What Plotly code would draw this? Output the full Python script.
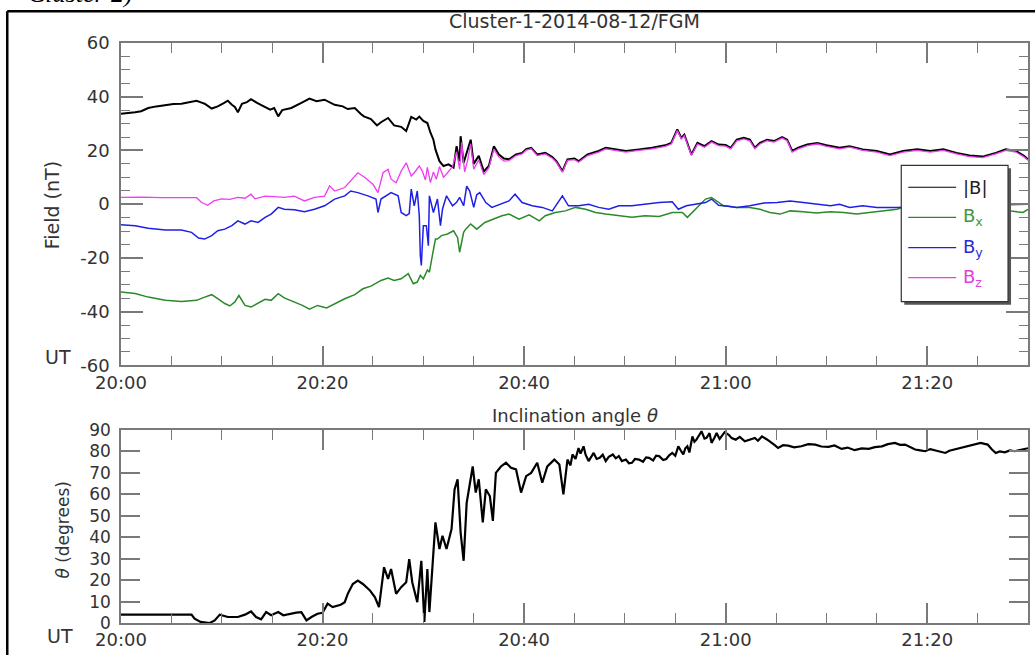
import pandas as pd
import plotly.graph_objects as go

# ---------------- data (minutes after 20:00 UT) -------------
t_B = [0, 0.7, 1.4, 2.0, 2.7, 3.5, 4.4, 5.2, 6.0, 6.8, 7.5, 8.0, 8.3, 9.0, 9.6, 10.2, 10.6, 11.0, 11.3, 11.6,
       12.0, 12.5, 12.9, 13.5, 14.2, 14.8, 15.2, 15.6, 16.0, 16.9, 17.9, 18.7, 19.4, 20.2, 21.2, 22.0, 22.5,
       23.2, 23.8, 24.1, 24.8, 25.4, 25.8, 26.5, 27.1, 27.8, 28.3, 28.8, 29.3, 29.6, 30.0, 30.4, 30.7, 31.0,
       31.2, 31.4, 31.6, 32.0, 32.5, 33.0, 33.3, 33.6, 33.7, 34.0, 34.3, 34.7, 35.0, 35.5, 36.0, 36.5, 37.0,
       37.5, 38.0, 38.5, 39.2, 39.8, 40.2, 40.7, 41.3, 42.1, 42.8, 43.2, 43.8, 44.3, 45.0, 45.4, 46.3, 47.4,
       48.1, 49.1, 50.1, 51.4, 52.7, 54.0, 54.6, 55.2, 55.6, 55.9, 56.6, 57.2, 57.9, 58.6, 59.3, 60.0, 60.5,
       61.1, 61.8, 62.4, 62.9, 63.4, 64.1, 64.8, 65.6, 66.1, 66.6, 67.2, 68.1, 69.1, 70.0, 71.3, 72.3, 73.6,
       75.0, 76.3, 77.6, 79.0, 80.3, 81.6, 82.9, 84.2, 85.5, 86.8, 87.8, 88.8, 89.6, 90.0]
B_mag = [33.7, 33.9, 34.2, 34.6, 35.8, 36.4, 37.0, 37.3, 37.4, 37.9, 38.5, 37.8, 37.4, 35.6, 36.4, 37.6, 38.5,
         37.0, 36.2, 34.2, 37.4, 38.0, 39.1, 37.7, 36.4, 35.2, 35.8, 32.7, 35.0, 35.8, 37.7, 39.3, 38.3, 38.9,
         37.0, 36.4, 35.4, 35.8, 33.6, 32.7, 31.7, 29.3, 30.5, 32.1, 29.3, 28.8, 27.2, 32.5, 31.5, 32.6, 31.0,
         30.2, 26.7, 24.0, 20.4, 18.0, 16.0, 14.2, 14.8, 13.6, 21.6, 16.0, 25.3, 15.4, 19.0, 24.0, 15.0, 18.0,
         12.2, 14.2, 21.6, 18.5, 17.0, 16.7, 18.5, 19.1, 20.5, 21.0, 18.5, 19.1, 17.5, 16.0, 12.3, 16.7, 17.0,
         16.0, 18.5, 19.8, 21.0, 20.4, 19.8, 20.4, 21.0, 21.9, 22.8, 27.8, 24.7, 25.9, 18.5, 22.8, 21.6, 23.5,
         22.2, 22.0, 21.0, 24.0, 24.7, 24.0, 21.0, 22.8, 24.0, 23.5, 25.0, 24.0, 19.8, 21.0, 22.2, 22.8, 21.9,
         21.0, 21.6, 20.4, 19.8, 18.5, 19.8, 20.4, 19.8, 20.4, 19.1, 18.1, 17.7, 19.1, 20.4, 19.8, 18.0, 16.7]

t_Bz = [0, 2.0, 4.0, 6.0, 7.5, 8.0, 8.6, 9.2, 10.0, 10.8, 11.6, 12.3, 12.9, 13.3, 14.3, 15.2, 16.2, 17.2, 18.2,
        19.2, 20.2, 20.7, 21.2, 22.2, 22.8, 23.5, 24.2, 25.0, 25.5, 26.0, 26.5, 26.8, 27.3, 27.8, 28.3, 28.8,
        29.1, 29.6, 29.9, 30.2, 30.4, 30.7, 31.0, 31.3, 31.6, 32.0, 32.4, 32.9, 33.3, 33.6, 33.8, 34.1, 34.4,
        34.7, 35.0, 35.5, 36.0, 36.5, 37.0, 37.5, 38.0, 38.5, 39.2, 39.8, 40.2, 40.7, 41.3, 42.1, 42.8, 43.2,
        43.8, 44.3, 45.0, 45.4, 46.3, 47.4, 48.1, 49.1, 50.1, 51.4, 52.7, 54.0, 54.6, 55.2, 55.6, 55.9, 56.6,
        57.2, 57.9, 58.6, 59.3, 60.0, 60.5, 61.1, 61.8, 62.4, 62.9, 63.4, 64.1, 64.8, 65.6, 66.1, 66.6, 67.2,
        68.1, 69.1, 70.0, 71.3, 72.3, 73.6, 75.0, 76.3, 77.6, 79.0, 80.3, 81.6, 82.9, 84.2, 85.5, 86.8, 87.8,
        88.8, 89.6, 90.0]
Bz = [2.5, 2.6, 2.4, 2.5, 2.4, 0.6, -0.4, 1.2, 2.0, 1.8, 2.5, 2.2, 3.7, 2.0, 3.0, 2.8, 2.5, 3.0, 1.2, 2.5, 3.0,
      6.8, 4.9, 6.2, 8.6, 11.7, 9.9, 7.4, 4.3, 11.7, 13.0, 9.3, 8.0, 12.3, 15.4, 10.5, 11.7, 14.2, 12.3, 9.0,
      13.7, 8.0, 12.0, 9.3, 14.0, 10.0, 11.7, 14.0, 19.5, 13.0, 23.0, 12.0, 16.5, 22.5, 13.0, 16.5, 11.0, 13.5,
      20.5, 17.5, 16.0, 16.2, 18.1, 18.7, 20.1, 20.6, 18.1, 18.7, 17.1, 15.6, 11.9, 16.3, 16.6, 15.6, 18.1,
      19.4, 20.6, 20.0, 19.4, 20.0, 20.6, 21.5, 22.4, 27.4, 24.3, 25.5, 18.1, 22.4, 21.2, 23.1, 21.8, 21.6,
      20.6, 23.6, 24.3, 23.6, 20.6, 22.4, 23.6, 23.1, 24.6, 23.6, 19.4, 20.6, 21.8, 22.4, 21.5, 20.6, 21.2,
      20.0, 19.4, 18.1, 19.4, 20.0, 19.4, 20.0, 18.7, 17.7, 17.3, 18.7, 20.0, 19.4, 17.6, 16.3]

t_Bx = [0, 1.4, 2.7, 4.4, 6.0, 7.5, 8.3, 9.0, 9.6, 10.3, 10.8, 11.3, 11.7, 12.3, 12.9, 13.6, 14.3, 14.9, 15.6,
        16.2, 17.2, 18.0, 18.7, 19.5, 20.4, 21.2, 22.2, 23.2, 24.0, 24.8, 25.8, 26.5, 27.1, 27.8, 28.5, 29.0,
        29.4, 29.7, 30.0, 30.4, 30.6, 30.9, 31.2, 31.4, 31.8, 32.4, 33.0, 33.4, 33.6, 34.0, 34.2, 34.7, 35.3,
        36.1, 37.0, 37.8, 38.5, 39.5, 40.5, 41.5, 42.1, 43.1, 44.1, 45.1, 46.1, 47.1, 48.1, 49.4, 50.7, 52.0,
        53.4, 54.7, 55.7, 56.2, 57.0, 58.0, 58.6, 59.3, 59.8, 61.1, 62.4, 63.4, 64.4, 65.4, 66.4, 67.7, 69.0,
        70.4, 71.7, 73.0, 74.3, 75.7, 77.0, 77.6, 80.0, 83.0, 86.0, 88.2, 89.5, 90.0]
Bx = [-32.7, -33.3, -34.6, -35.8, -36.2, -35.8, -34.6, -33.7, -35.2, -37.0, -37.9, -36.4, -34.0, -37.7, -38.3,
      -37.0, -35.4, -35.8, -33.3, -34.9, -36.4, -37.7, -39.1, -37.7, -38.6, -37.0, -35.2, -33.7, -31.5, -30.5,
      -28.4, -27.5, -28.4, -27.8, -25.9, -29.6, -29.0, -26.5, -27.8, -24.5, -25.3, -19.1, -13.0, -13.0, -11.7,
      -11.1, -9.9, -12.5, -17.9, -10.5, -9.3, -7.4, -9.3, -6.8, -5.6, -4.3, -3.7, -5.6, -4.0, -6.2, -4.3, -3.1,
      -2.5, -1.2, -1.9, -3.1, -3.7, -4.3, -4.9, -4.3, -4.6, -3.1, -3.1, -4.9, -1.9, 1.9, 2.5, 0.6, -0.6, -1.2,
      -1.2, -1.9, -3.1, -3.7, -2.5, -2.8, -3.3, -2.8, -3.1, -3.7, -3.1, -2.5, -1.9, -1.2, -1.5, -1.8, -2.0,
      -2.5, -3.1, -1.9]

t_By = [0, 1.4, 2.7, 4.4, 6.0, 7.0, 7.7, 8.3, 9.0, 9.6, 10.3, 11.0, 11.6, 12.3, 12.9, 13.6, 14.3, 14.9, 15.6,
        16.2, 17.2, 18.2, 19.2, 20.2, 21.2, 22.2, 22.8, 23.5, 24.5, 25.3, 25.5, 25.8, 26.8, 27.5, 27.8, 28.3,
        28.6, 28.8, 29.1, 29.4, 29.6, 29.7, 29.8, 30.0, 30.3, 30.5, 30.6, 31.0, 31.4, 31.7, 31.9, 32.3, 32.9,
        33.3, 33.6, 34.0, 34.3, 34.6, 35.0, 35.3, 35.6, 36.2, 36.8, 37.6, 38.5, 39.1, 39.8, 40.8, 41.8, 42.8,
        43.8, 44.4, 45.4, 46.4, 47.4, 48.4, 49.4, 50.7, 52.0, 53.4, 54.7, 55.3, 56.1, 57.1, 58.0, 58.6, 59.3,
        60.3, 61.1, 62.4, 63.8, 65.1, 66.4, 67.7, 69.0, 70.4, 71.3, 72.3, 73.6, 75.0, 76.3, 77.0, 80.0, 83.0,
        86.0, 88.2, 90.0]
By = [-7.7, -8.0, -9.0, -9.6, -9.6, -10.5, -12.6, -13.0, -11.7, -9.9, -9.3, -8.0, -6.2, -7.4, -6.2, -6.8, -4.9,
      -3.7, -1.2, -1.9, -2.1, -2.8, -1.9, -0.6, 1.9, 3.1, 4.9, 4.3, 3.1, 1.9, -3.1, 1.9, 4.3, 3.1, -3.1, -4.3,
      -3.5, 5.6, -0.6, 4.9, -4.3, -19.1, -22.8, -8.0, -8.0, -15.5, 3.1, -3.1, 1.9, -8.0, -1.9, 3.1, -0.6, 0.7,
      2.5, -0.6, 6.7, 4.9, -1.2, 3.5, 4.3, 0.6, -1.2, 0.0, 1.2, 3.7, 0.6, -0.6, -1.2, -2.5, 3.1, -0.6, -0.6,
      0.0, -1.2, -1.9, -0.6, -0.6, 0.0, 0.6, 0.9, -1.9, -0.6, 0.0, 0.6, 1.9, -0.4, -0.8, -1.2, -0.6, 0.4, 0.6,
      1.2, 0.6, 0.0, -0.6, 0.0, -1.2, -0.6, -1.2, -1.2, -1.2, -0.8, -0.5, -0.2, 0.0, 0.0]

t_theta = [0, 2, 4, 6, 7.0, 7.3, 7.9, 8.8, 9.3, 9.8, 10.6, 11.6, 12.3, 12.9, 13.4, 13.9, 14.4, 14.9, 15.6, 16.1,
           16.7, 17.4, 17.9, 18.4, 18.9, 19.5, 20.0, 20.5, 21.0, 21.8, 22.2, 22.5, 23.0, 23.5, 24.0, 24.7, 25.2,
           25.6, 26.1, 26.5, 26.8, 27.3, 27.8, 28.3, 28.6, 28.9, 29.4, 29.8, 30.1, 30.4, 30.6, 30.9, 31.2, 31.6,
           31.9, 32.3, 32.8, 33.1, 33.4, 33.7, 34.0, 34.3, 34.9, 35.2, 35.5, 35.9, 36.2, 36.6, 36.9, 37.2, 37.7,
           38.2, 38.7, 39.2, 39.7, 40.2, 40.7, 41.3, 41.8, 42.3, 43.0, 43.5, 43.9,
           44.3, 44.6, 44.8, 45.1, 45.4, 45.6, 45.9, 46.1, 46.4, 46.7, 46.9, 47.2, 47.5, 47.8, 48.1, 48.4, 48.8,
           49.1, 49.4, 49.7, 50.1, 50.4, 50.7, 51.0, 51.4, 51.8, 52.1, 52.4, 52.8, 53.1, 53.4, 53.8, 54.1, 54.4,
           54.7, 55.0, 55.3, 55.6, 55.8, 56.0, 56.2, 56.4, 56.7, 56.9, 57.1, 57.4, 57.6, 57.9, 58.1, 58.4, 58.6,
           58.9, 59.1, 59.4, 59.6, 59.9, 60.3, 60.6, 61.0, 61.4, 61.9, 62.4, 62.9, 63.2, 63.6, 64.1, 64.6, 64.9,
           65.2, 65.7, 66.2, 66.8, 67.5, 68.2, 68.9, 69.5, 70.2, 70.8, 71.5, 72.1, 72.8, 73.5, 74.2, 74.8, 75.5,
           76.1, 76.8, 77.3, 77.8, 78.3, 78.8, 79.3, 79.8, 80.3, 80.8, 81.3, 81.8, 82.2, 82.7, 83.4, 84.0, 84.7,
           85.3, 85.7, 86.0, 86.4, 86.8, 87.2, 87.7, 88.2, 88.7, 89.3, 89.8, 90.0]
theta = [3.9, 3.9, 3.8, 3.9, 3.9, 2.0, 0.5, 0.0, 1.2, 3.9, 2.8, 2.8, 3.9, 5.4, 2.8, 1.7, 5.1, 3.6, 5.1, 3.6,
         4.3, 4.8, 5.1, 1.2, 2.8, 4.3, 4.8, 9.0, 7.4, 8.5, 9.7, 13.6, 18.2, 19.8, 18.2, 15.2, 12.0, 7.4, 26.0,
         20.6, 25.2, 13.6, 16.7, 19.0, 29.8, 19.0, 9.7, 29.0, 0.5, 25.2, 5.1, 28.3, 46.9, 34.5, 40.7, 34.5, 43.8,
         62.3, 67.0, 42.2, 29.0, 56.0, 73.0, 60.8, 67.0, 46.9, 62.3, 59.2, 47.6, 70.0, 73.0, 74.7, 72.4, 71.6,
         60.8, 68.5, 70.0, 74.7, 65.4, 73.0, 76.2, 73.9, 60.0,
         76.2, 73.5, 78.6, 76.5, 81.6, 79.0, 82.4, 78.5, 75.5, 78.0, 79.3, 76.5, 77.0, 78.5, 75.5, 77.5, 78.6,
         76.8, 77.8, 75.5, 76.2, 74.5, 74.7, 76.5, 76.2, 75.2, 77.2, 77.0, 75.8, 78.0, 77.8, 76.0, 76.5, 78.2,
         79.3, 78.0, 82.4, 80.0, 78.6, 81.5, 82.4, 79.5, 87.0, 84.5, 85.5, 87.8, 89.4, 86.0, 86.3, 88.5, 84.0,
         86.5, 88.6, 85.8, 87.0, 89.0, 87.8, 86.2, 85.5, 86.8, 84.7, 85.6, 86.3, 85.0, 87.0, 85.6, 84.0, 82.8,
         81.6, 82.9, 82.7, 81.9, 82.4, 83.4, 83.2, 82.3, 82.1, 82.8, 81.2, 81.8, 80.6, 81.4, 81.2, 82.0, 82.4,
         83.4, 84.0, 83.1, 83.2, 82.0, 80.9, 80.5, 80.1, 81.1, 80.6, 79.8, 79.3, 80.3, 80.9, 81.9, 82.4, 83.3,
         84.0, 83.5, 83.2, 81.0, 79.3, 80.0, 79.6, 80.5, 80.1, 80.8, 81.2, 81.5]

field_ticks = [60, 40, 20, 0, -20, -40, -60]
field_ticktext = ["60", "40", "20", "0", "-20", "-40", "-60"]
theta_ticks = [0, 10, 20, 30, 40, 50, 60, 70, 80, 90]

# ---------------- figure ------------------------------------------------------------------
base = pd.Timestamp("2014-08-12 20:00:00")


def tt(mins):
    return base + pd.to_timedelta(mins, unit="m")


W, H = 1035, 655
ML, MR, MT, MB = 121, 5, 43, 29
PW, PH = W - ML - MR, H - MT - MB


def px(x):
    return (x - ML) / PW


def py(y):
    return (H - MB - y) / PH


FONT = "DejaVu Sans, Liberation Sans, Arial, sans-serif"
TXT = "#333333"

fig = go.Figure()
fig.add_trace(go.Scatter(x=tt(t_Bx), y=Bx, mode="lines", line=dict(color="#2a8a2a", width=1.5),
                         xaxis="x", yaxis="y", name="Bx"))
fig.add_trace(go.Scatter(x=tt(t_By), y=By, mode="lines", line=dict(color="#1f1fe6", width=1.5),
                         xaxis="x", yaxis="y", name="By"))
fig.add_trace(go.Scatter(x=tt(t_B), y=B_mag, mode="lines", line=dict(color="#000000", width=2),
                         xaxis="x", yaxis="y", name="|B|"))
fig.add_trace(go.Scatter(x=tt(t_Bz), y=Bz, mode="lines", line=dict(color="#f03cf0", width=1.3),
                         xaxis="x", yaxis="y", name="Bz"))
fig.add_trace(go.Scatter(x=tt(t_theta), y=theta, mode="lines", line=dict(color="#000000", width=2.2),
                         xaxis="x2", yaxis="y2", name="theta"))

axcol = "#7a7a7a"
tfont = dict(family=FONT, size=18, color=TXT)
xr = [tt(0), tt(90)]
xcommon = dict(type="date", range=xr, tickmode="linear", tick0=tt(0), dtick=20 * 60000, tickformat="%H:%M",
               ticks="inside", ticklen=20, tickwidth=1.5, tickcolor=axcol, showline=True, linecolor=axcol,
               linewidth=1.5, mirror="allticks", showgrid=False, zeroline=False, tickfont=tfont,
               ticklabelstandoff=0,
               minor=dict(ticks="inside", ticklen=10, tickwidth=1.2, tickcolor=axcol, dtick=5 * 60000,
                          tick0=tt(0), showgrid=False))

fig.update_layout(
    width=W, height=H, margin=dict(l=ML, r=MR, t=MT, b=MB),
    paper_bgcolor="white", plot_bgcolor="white", showlegend=False,
    font=dict(family=FONT, color=TXT),
    xaxis=dict(anchor="y", domain=[0, 1], **xcommon),
    xaxis2=dict(anchor="y2", domain=[0, 1], **xcommon),
    yaxis=dict(domain=[py(367), 1], range=[-60, 60], tickmode="array", tickvals=field_ticks,
               ticktext=field_ticktext, ticks="inside", ticklen=22, tickwidth=1.5, tickcolor=axcol,
               showline=True, linecolor=axcol, linewidth=1.5, mirror="allticks", showgrid=False,
               zeroline=False, tickfont=tfont, ticklabelstandoff=6,
               minor=dict(ticks="inside", ticklen=9, tickwidth=1.2, tickcolor=axcol, tickmode="linear",
                          tick0=0, dtick=5, showgrid=False)),
    yaxis2=dict(domain=[0, py(432)], range=[0, 90], tickmode="array", tickvals=theta_ticks,
                ticks="inside", ticklen=19, tickwidth=1.5, tickcolor=axcol, showline=True,
                linecolor=axcol, linewidth=1.5, mirror="allticks", showgrid=False, zeroline=False,
                tickfont=dict(family=FONT, size=17, color=TXT), ticklabelstandoff=5),
)

ann = []
ann.append(dict(text="Cluster-1-2014-08-12/FGM", x=0.5, y=py(21), xref="paper", yref="paper",
                yanchor="middle", showarrow=False, font=dict(size=19, color=TXT)))
ann.append(dict(text="Inclination angle <i>θ</i>", x=0.5, y=py(417), xref="paper", yref="paper",
                yanchor="middle", showarrow=False, font=dict(size=18, color=TXT)))
ann.append(dict(text="Field (nT)", x=px(52), y=py(206), xref="paper", yref="paper", textangle=-90,
                xanchor="center", yanchor="middle", showarrow=False, font=dict(size=19, color=TXT)))
ann.append(dict(text="<i>θ</i> (degrees)", x=px(63), y=py(532), xref="paper", yref="paper", textangle=-90,
                xanchor="center", yanchor="middle", showarrow=False, font=dict(size=17, color=TXT)))
ann.append(dict(text="UT", x=px(58), y=py(359), xref="paper", yref="paper", xanchor="center",
                yanchor="middle", showarrow=False, font=dict(size=19, color=TXT)))
ann.append(dict(text="UT", x=px(60), y=py(639), xref="paper", yref="paper", xanchor="center",
                yanchor="middle", showarrow=False, font=dict(size=19, color=TXT)))
ann.append(dict(text="Cluster 2)", x=px(26), y=py(10), xref="paper", yref="paper", xanchor="left",
                yanchor="bottom", showarrow=False,
                font=dict(family="Liberation Serif, Times New Roman, serif", size=26, color="#000000",
                          style="italic")))

shapes = []
# outer frame (left and top edges of the boxed figure)
shapes.append(dict(type="line", xref="paper", yref="paper", x0=px(7), x1=px(1040), y0=py(11), y1=py(11),
                   line=dict(color="black", width=2.5)))
shapes.append(dict(type="line", xref="paper", yref="paper", x0=px(7), x1=px(7), y0=py(11), y1=py(665),
                   line=dict(color="black", width=2.5)))
# legend box with shadow
shapes.append(dict(type="rect", xref="paper", yref="paper", x0=px(906), x1=px(1013), y0=py(169), y1=py(306),
                   fillcolor="#555555", line=dict(width=0)))
shapes.append(dict(type="rect", xref="paper", yref="paper", x0=px(903), x1=px(1010), y0=py(166), y1=py(303),
                   fillcolor="white", line=dict(color="#333333", width=1.2)))
leg_items = [("|B|", "#000000", "#222222"), ("B<sub>x</sub>", "#2a8a2a", "#3c9a3c"),
             ("B<sub>y</sub>", "#1f1fe6", "#2a2ad8"), ("B<sub>z</sub>", "#f03cf0", "#e040e0")]
for i, (lab, lc, tc) in enumerate(leg_items):
    yy = 188 + 30.3 * i
    shapes.append(dict(type="line", xref="paper", yref="paper", x0=px(910), x1=px(958), y0=py(yy), y1=py(yy),
                       line=dict(color=lc, width=1.2)))
    ann.append(dict(text=lab, x=px(963), y=py(yy), xref="paper", yref="paper", xanchor="left",
                    yanchor="middle", showarrow=False, font=dict(size=18, color=tc)))

fig.update_layout(annotations=ann, shapes=shapes)
fig.write_html("out.html")
